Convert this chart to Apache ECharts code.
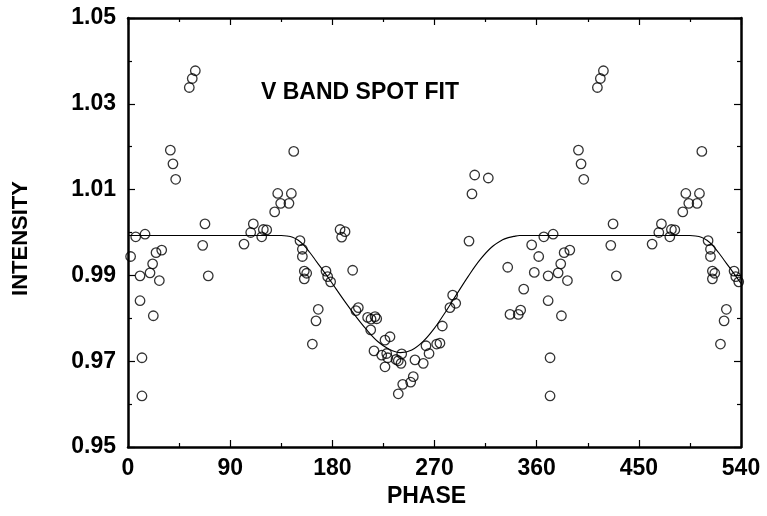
<!DOCTYPE html>
<html>
<head>
<meta charset="utf-8">
<script src="https://cdn.jsdelivr.net/npm/echarts@6/dist/echarts.min.js"></script>
<style>
html,body{margin:0;padding:0;background:#fff;}
#chart{width:767px;height:516px;}
</style>
</head>
<body>
<div id="chart"></div>
<script>
// ---- data ----
var xTicks = [0, 90, 180, 270, 360, 450, 540];
var yTicks = [0.95, 0.97, 0.99, 1.01, 1.03, 1.05];

// observed points, phase 0-360
var obsPhase = [2.3, 6.8, 15.0, 10.6, 19.4, 21.7, 24.7, 29.7, 27.6, 10.6, 22.3, 12.3, 12.3,
  37.3, 39.6, 42.0, 54.0, 56.6, 59.3, 65.8, 67.8, 70.7, 102.2, 108.1, 110.4, 117.8, 119.2, 122.2,
  129.2, 131.9, 134.5, 141.8, 143.9, 146.0, 151.5, 153.6, 153.6, 155.3, 157.4, 155.3, 162.4, 165.6,
  167.6, 174.4, 175.9, 178.5, 186.8, 188.2, 191.2, 197.9, 200.8, 202.9, 211.1, 213.8, 214.1, 216.7,
  217.6, 219.1, 223.5, 226.4, 226.4, 227.9, 228.8, 230.8, 236.1, 238.1, 238.1, 240.5, 241.1, 242.0,
  249.0, 251.3, 252.8, 260.1, 262.5, 265.2, 271.9, 274.8, 276.9, 283.6, 286.0, 288.7, 300.4, 303.0,
  305.4, 317.4, 334.5, 336.5, 343.8, 345.9, 348.6, 355.6, 357.9];
var obsIntensity = [0.9944, 0.9990, 0.9996, 0.9899, 0.9906, 0.9927, 0.9953, 0.9959, 0.9888, 0.9841, 0.9806, 0.9708, 0.9619,
  1.0192, 1.0160, 1.0124, 1.0338, 1.0359, 1.0377, 0.9970, 1.0020, 0.9899, 0.9973, 1.0000, 1.0020, 0.9990, 1.0007, 1.0006,
  1.0048, 1.0091, 1.0068, 1.0068, 1.0091, 1.0189, 0.9981, 0.9961, 0.9944, 0.9910, 0.9905, 0.9892, 0.9740, 0.9794,
  0.9821, 0.9910, 0.9897, 0.9885, 1.0007, 0.9989, 1.0002, 0.9912, 0.9818, 0.9825, 0.9802, 0.9773, 0.9798, 0.9724,
  0.9804, 0.9799, 0.9714, 0.9749, 0.9687, 0.9718, 0.9708, 0.9757, 0.9704, 0.9701, 0.9624, 0.9695, 0.9717, 0.9646,
  0.9651, 0.9664, 0.9703, 0.9695, 0.9736, 0.9718, 0.9740, 0.9742, 0.9782, 0.9825, 0.9854, 0.9835, 0.9980, 1.0090,
  1.0134, 1.0127, 0.9919, 0.9809, 0.9809, 0.9819, 0.9868, 0.9971, 0.9907];

// repeated points shown at phase 360-540
var repPhase = [361.8, 366.3, 374.5, 370.1, 378.9, 381.2, 384.2, 389.2, 387.1, 370.1, 381.8, 371.8, 371.8,
  396.8, 399.1, 401.5, 413.5, 416.1, 418.8, 425.3, 427.3, 430.2, 461.7, 467.6, 469.9, 477.3, 478.7, 481.7,
  488.7, 491.4, 494.0, 501.3, 503.4, 505.5, 511.0, 513.1, 513.1, 514.8, 516.9, 514.8, 521.9, 525.1,
  527.1, 533.9, 535.4, 538.0];
var repIntensity = [0.9944, 0.9990, 0.9996, 0.9899, 0.9906, 0.9927, 0.9953, 0.9959, 0.9888, 0.9841, 0.9806, 0.9708, 0.9619,
  1.0192, 1.0160, 1.0124, 1.0338, 1.0359, 1.0377, 0.9970, 1.0020, 0.9899, 0.9973, 1.0000, 1.0020, 0.9990, 1.0007, 1.0006,
  1.0048, 1.0091, 1.0068, 1.0068, 1.0091, 1.0189, 0.9981, 0.9961, 0.9944, 0.9910, 0.9905, 0.9892, 0.9740, 0.9794,
  0.9821, 0.9910, 0.9897, 0.9885];

// spot-model fit curve
var fitPhase = [0, 10, 20, 30, 40, 50, 60, 70, 80, 90, 100, 110, 120, 130, 135, 140, 145, 150, 155, 160, 165, 170, 175, 180,
  190, 200, 210, 220, 230, 240, 250, 260, 270, 280, 290, 300, 310, 320, 330, 335, 340, 345, 350, 360,
  370, 380, 390, 400, 410, 420, 430, 440, 450, 460, 470, 480, 490, 495, 500, 505, 510, 515, 520, 525, 530, 535, 540];
var fitIntensity = [0.9993, 0.9993, 0.9993, 0.9993, 0.9993, 0.9993, 0.9993, 0.9993, 0.9993, 0.9993, 0.9993, 0.9993, 0.9993, 0.9993,
  0.9993, 0.9992, 0.9989, 0.9982, 0.9970, 0.9954, 0.9936, 0.9918, 0.9900, 0.9881,
  0.9843, 0.9807, 0.9774, 0.9746, 0.9728, 0.9720, 0.9726, 0.9746, 0.9777, 0.9816, 0.9858, 0.9899, 0.9936, 0.9965, 0.9983, 0.9988, 0.9991, 0.9993, 0.9993, 0.9993,
  0.9993, 0.9993, 0.9993, 0.9993, 0.9993, 0.9993, 0.9993, 0.9993, 0.9993, 0.9993, 0.9993, 0.9993, 0.9993, 0.9993,
  0.9992, 0.9989, 0.9982, 0.9970, 0.9954, 0.9936, 0.9918, 0.9900, 0.9881];

// ---- build ----
function pairs(xs, ys) { return xs.map(function (x, i) { return [x, ys[i]]; }); }
var pointData = pairs(obsPhase, obsIntensity).concat(pairs(repPhase, repIntensity));
var fitData = pairs(fitPhase, fitIntensity);

var FONT = '"Liberation Sans", Arial, Helvetica, sans-serif';
var axisLineStyle = { color: '#000', width: 2.5 };

function xAxisDef(pos, showLabel) {
  return {
    type: 'value', position: pos, min: xTicks[0], max: xTicks[xTicks.length - 1], interval: 90,
    axisLine: { show: true, onZero: false, lineStyle: axisLineStyle },
    axisTick: { show: true, inside: true, length: 7, lineStyle: { color: '#000', width: 1.2 } },
    minorTick: { show: true, splitNumber: 2, length: 4, lineStyle: { color: '#000', width: 1.2 } },
    splitLine: { show: false },
    axisLabel: { show: showLabel, margin: 10, color: '#000', fontSize: 23, fontWeight: 'bold', fontFamily: FONT,
      formatter: function (v) { return String(v); } },
    name: showLabel ? 'PHASE' : '', nameLocation: 'middle', nameGap: 37,
    nameTextStyle: { color: '#000', fontSize: 23, fontWeight: 'bold', fontFamily: FONT, padding: [0, 16, 0, 0] }
  };
}
function yAxisDef(pos, showLabel) {
  return {
    type: 'value', position: pos, min: yTicks[0], max: yTicks[yTicks.length - 1], interval: 0.02,
    axisLine: { show: true, onZero: false, lineStyle: axisLineStyle },
    axisTick: { show: true, inside: true, length: 7, lineStyle: { color: '#000', width: 1.2 } },
    minorTick: { show: true, splitNumber: 2, length: 4, lineStyle: { color: '#000', width: 1.2 } },
    splitLine: { show: false },
    axisLabel: { show: showLabel, margin: 12, color: '#000', fontSize: 23, fontWeight: 'bold', fontFamily: FONT,
      formatter: function (v) { return v.toFixed(2); } },
    name: showLabel ? 'INTENSITY' : '', nameLocation: 'middle', nameGap: 96, nameRotate: 90,
    nameTextStyle: { color: '#000', fontSize: 22, fontWeight: 'bold', fontFamily: FONT, padding: [0, 12, 0, 0] }
  };
}

var chart = echarts.init(document.getElementById('chart'), null, { renderer: 'canvas' });
chart.setOption({
  animation: false,
  backgroundColor: '#fff',
  title: {
    text: 'V BAND SPOT FIT', left: 256, top: 76,
    textStyle: { color: '#000', fontSize: 23, fontWeight: 'bold', fontFamily: FONT }
  },
  grid: { left: 128, right: 26, top: 18, bottom: 69, containLabel: false },
  xAxis: [xAxisDef('bottom', true), xAxisDef('top', false)],
  yAxis: [yAxisDef('left', true), yAxisDef('right', false)],
  series: [
    {
      type: 'line', xAxisIndex: 0, yAxisIndex: 0, data: fitData, smooth: 0.35,
      showSymbol: false, symbol: 'none', silent: true,
      lineStyle: { color: '#000', width: 1.1 }, z: 2
    },
    {
      type: 'scatter', xAxisIndex: 0, yAxisIndex: 0, data: pointData, symbol: 'circle', symbolSize: 9.5,
      silent: true,
      itemStyle: { color: 'rgba(255,255,255,0)', borderColor: '#000', borderWidth: 1.3 }, z: 3
    }
  ]
});
</script>
</body>
</html>
